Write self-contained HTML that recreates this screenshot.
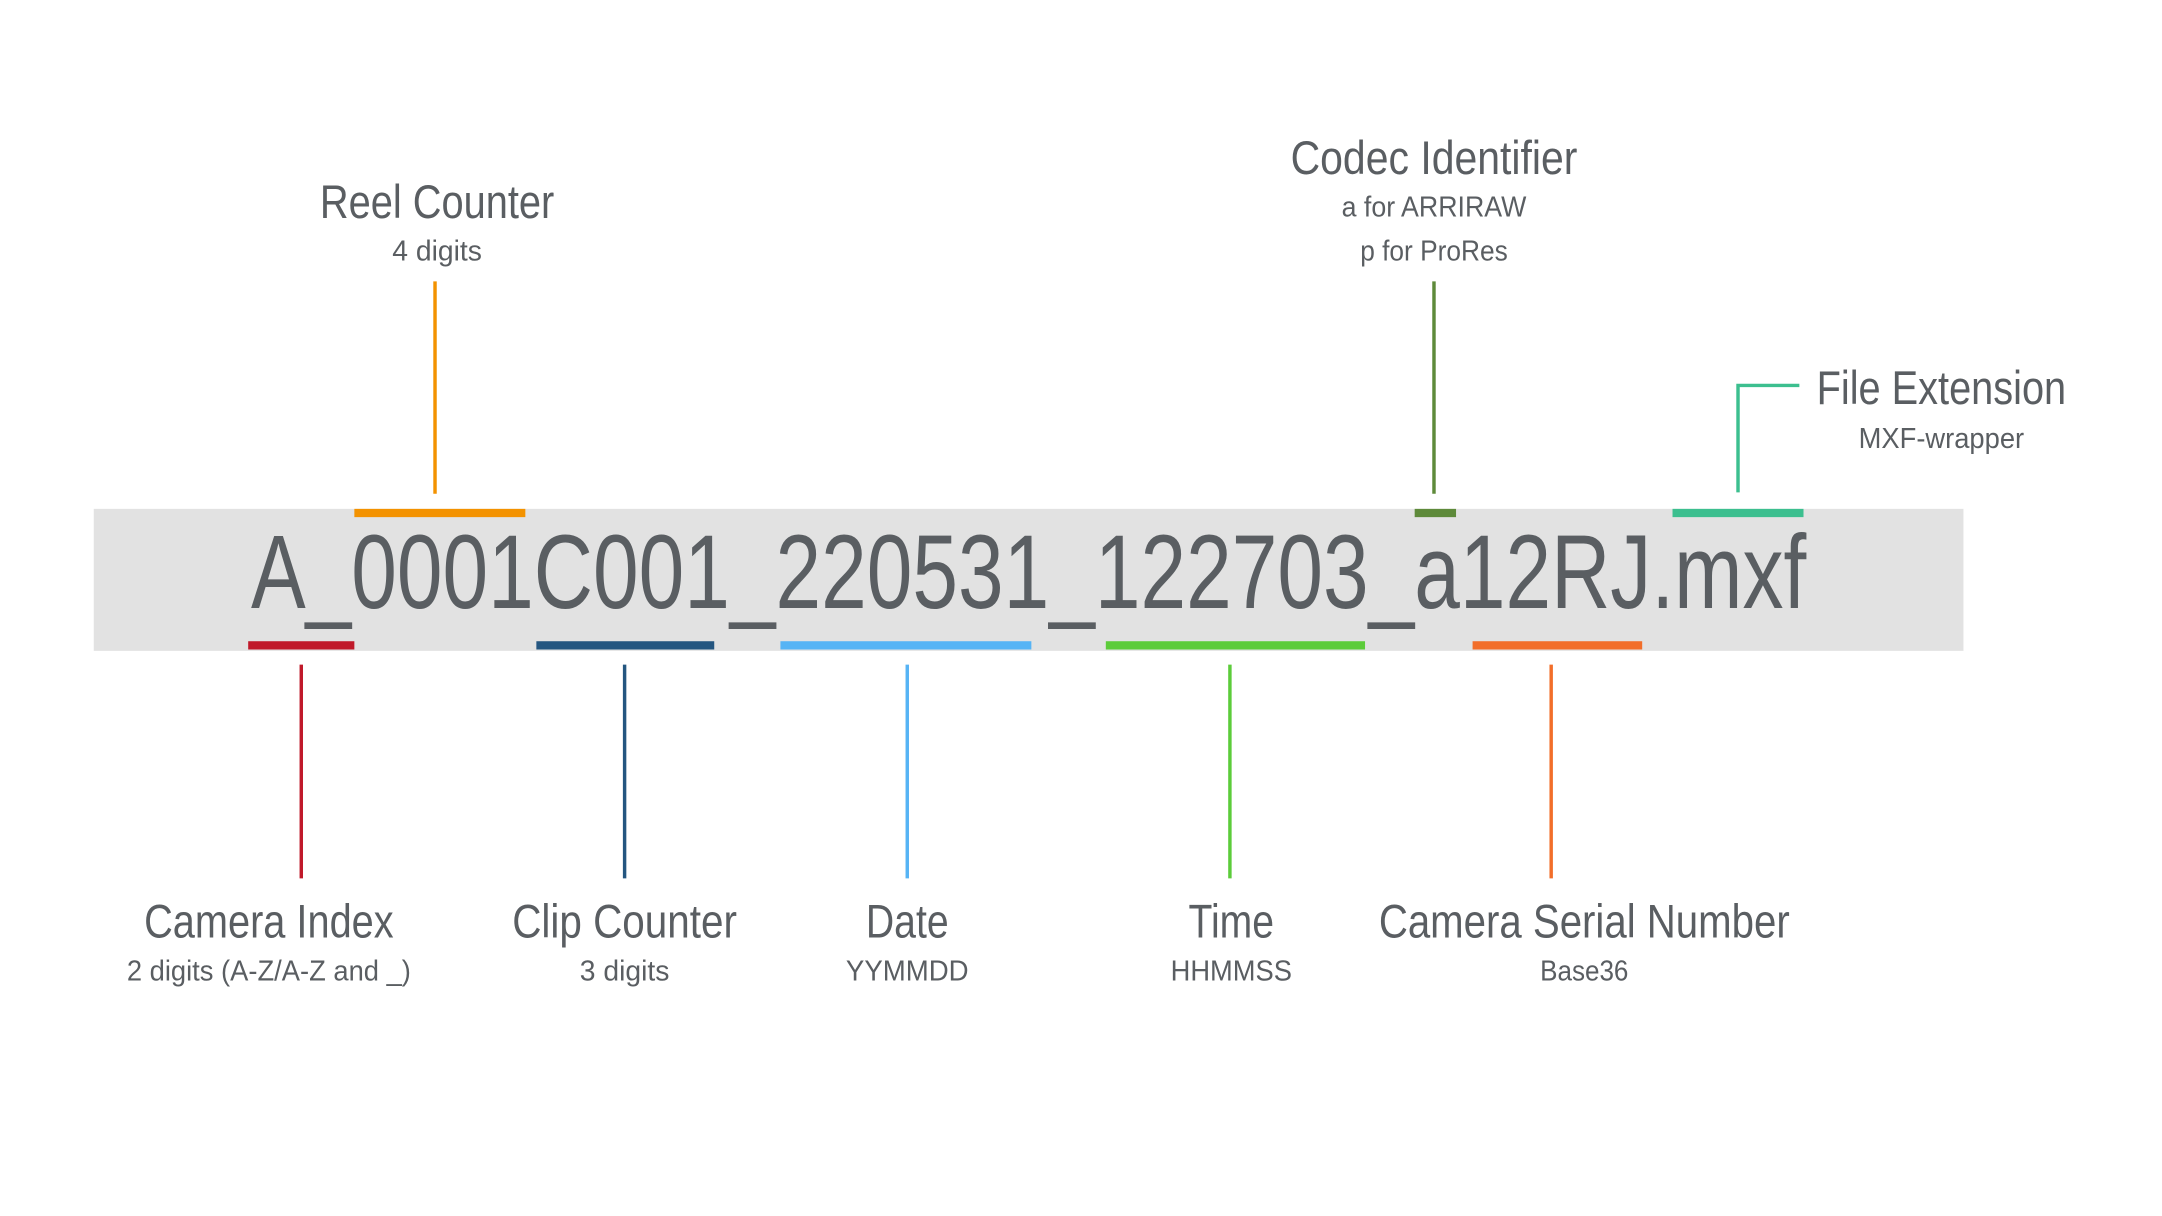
<!DOCTYPE html>
<html><head><meta charset="utf-8"><style>html,body{margin:0;padding:0;background:#fff}svg{display:block}</style></head>
<body>
<svg width="2162" height="1216" viewBox="0 0 1568 881.8" xmlns="http://www.w3.org/2000/svg">
<rect width="1570" height="884" fill="#fff"/>
<rect x="68" y="369" width="1356" height="103" fill="#e2e2e2"/>
<g font-family="'Liberation Sans Narrow','Liberation Sans',sans-serif" fill="#5a5e62" text-anchor="middle">
<text x="746" y="441" font-size="76" textLength="1128" lengthAdjust="spacingAndGlyphs">A_0001C001_220531_122703_a12RJ.mxf</text>
<text x="317" y="158" font-size="34" textLength="170" lengthAdjust="spacingAndGlyphs">Reel Counter</text>
<text x="317" y="189" font-size="21" textLength="65" lengthAdjust="spacingAndGlyphs">4 digits</text>
<text x="1040" y="126" font-size="34" textLength="208" lengthAdjust="spacingAndGlyphs">Codec Identifier</text>
<text x="1040" y="157" font-size="21" textLength="134" lengthAdjust="spacingAndGlyphs">a for ARRIRAW</text>
<text x="1040" y="189" font-size="21" textLength="107" lengthAdjust="spacingAndGlyphs">p for ProRes</text>
<text x="1408" y="293" font-size="34" textLength="181" lengthAdjust="spacingAndGlyphs">File Extension</text>
<text x="1408" y="325" font-size="21" textLength="120" lengthAdjust="spacingAndGlyphs">MXF-wrapper</text>
<text x="195" y="680" font-size="34" textLength="181" lengthAdjust="spacingAndGlyphs">Camera Index</text>
<text x="195" y="711" font-size="21" textLength="206" lengthAdjust="spacingAndGlyphs">2 digits (A-Z/A-Z and _)</text>
<text x="453" y="680" font-size="34" textLength="163" lengthAdjust="spacingAndGlyphs">Clip Counter</text>
<text x="453" y="711" font-size="21" textLength="65" lengthAdjust="spacingAndGlyphs">3 digits</text>
<text x="658" y="680" font-size="34" textLength="60" lengthAdjust="spacingAndGlyphs">Date</text>
<text x="658" y="711" font-size="21" textLength="89" lengthAdjust="spacingAndGlyphs">YYMMDD</text>
<text x="893" y="680" font-size="34" textLength="62" lengthAdjust="spacingAndGlyphs">Time</text>
<text x="893" y="711" font-size="21" textLength="88" lengthAdjust="spacingAndGlyphs">HHMMSS</text>
<text x="1149" y="680" font-size="34" textLength="298" lengthAdjust="spacingAndGlyphs">Camera Serial Number</text>
<text x="1149" y="711" font-size="21" textLength="64" lengthAdjust="spacingAndGlyphs">Base36</text>
</g>
<rect x="257" y="369" width="124" height="6" fill="#f39200"/>
<rect x="1026" y="369" width="30" height="6" fill="#5e8a3a"/>
<rect x="1213" y="369" width="95" height="6" fill="#3cbf8f"/>
<rect x="180" y="465" width="77" height="6" fill="#c0192a"/>
<rect x="389" y="465" width="129" height="6" fill="#245680"/>
<rect x="566" y="465" width="182" height="6" fill="#56b4f5"/>
<rect x="802" y="465" width="188" height="6" fill="#5ccc3a"/>
<rect x="1068" y="465" width="123" height="6" fill="#f26e2a"/>
<g stroke-width="2.5" fill="none">
<line x1="315.5" y1="204" x2="315.5" y2="358" stroke="#f39200"/>
<line x1="1040" y1="204" x2="1040" y2="358" stroke="#5e8a3a"/>
<polyline points="1260.5,357 1260.5,279.5 1305,279.5" stroke="#3cbf8f"/>
<line x1="218.5" y1="482" x2="218.5" y2="637" stroke="#c0192a"/>
<line x1="453" y1="482" x2="453" y2="637" stroke="#245680"/>
<line x1="658" y1="482" x2="658" y2="637" stroke="#56b4f5"/>
<line x1="892" y1="482" x2="892" y2="637" stroke="#5ccc3a"/>
<line x1="1125" y1="482" x2="1125" y2="637" stroke="#f26e2a"/>
</g>
</svg>
</body></html>
